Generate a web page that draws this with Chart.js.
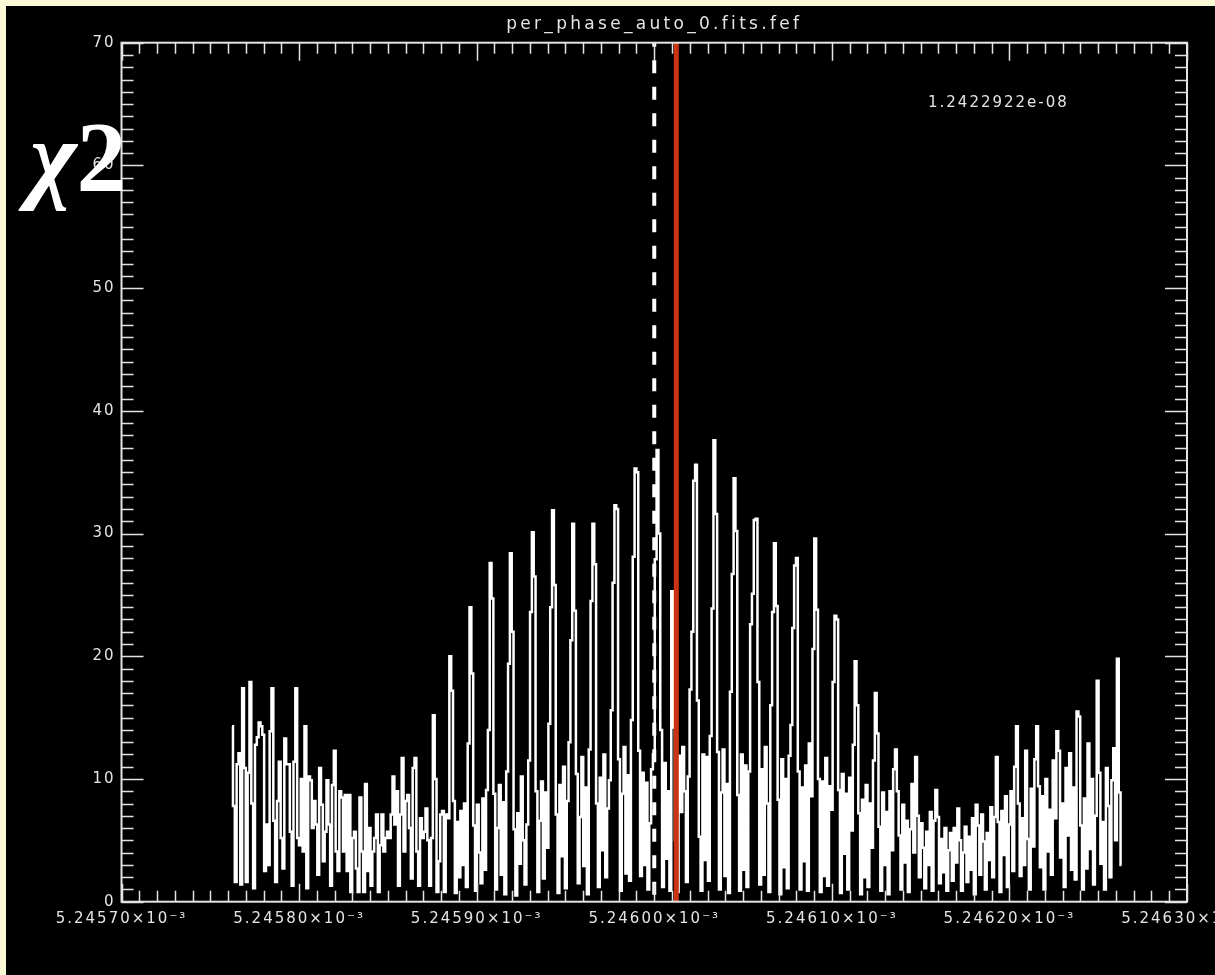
<!DOCTYPE html>
<html>
<head>
<meta charset="utf-8">
<script src="https://cdn.jsdelivr.net/npm/chart.js@4"></script>
<style>
  html, body { margin: 0; padding: 0; background: #fcfad6; }
  body { width: 1215px; height: 975px; overflow: hidden; position: relative; }
  #wrap { position: absolute; left: 6px; top: 6px; width: 1209px; height: 969px; background: #000; }
</style>
</head>
<body>
<div id="wrap"><canvas id="chart" width="1209" height="969"></canvas></div>
<script>
// frequency grid of the scan (first and last sampled frequency)
const freqFirst = 0.00524576225;
const freqLast = 0.0052462631;

// chi2 values, left to right
const chi2 = [
  14.3, 7.8, 1.6, 11.2, 12.1, 1.4, 17.4, 10.9, 1.6, 10.5,
  17.9, 8.0, 1.1, 12.8, 13.4, 14.6, 14.3, 13.6, 2.5, 6.3,
  3.0, 13.9, 17.4, 6.6, 1.6, 8.2, 11.4, 5.2, 2.7, 13.3,
  11.2, 11.2, 5.7, 1.3, 11.4, 17.4, 5.2, 4.6, 10.0, 4.1,
  14.3, 1.1, 10.2, 9.9, 6.0, 8.2, 6.3, 2.2, 10.9, 7.9,
  3.3, 5.7, 9.9, 6.3, 1.3, 9.5, 12.3, 4.1, 2.5, 9.0,
  8.5, 4.1, 8.7, 2.5, 8.7, 0.8, 5.2, 5.7, 2.7, 0.8,
  8.5, 4.1, 0.8, 9.6, 2.5, 6.0, 1.3, 4.1,
  5.2, 7.1, 0.8, 4.6, 7.1, 4.1, 5.2,
  5.7, 5.2, 7.1, 10.2, 6.3, 9.0, 1.3, 7.1, 11.7,
  4.1, 8.2, 8.7, 6.0, 1.9, 10.9, 11.7, 4.1, 1.3, 6.8,
  5.2, 5.7, 7.6, 5.0, 1.3, 5.2, 15.2, 10.0, 0.8,
  3.3, 7.1, 7.4, 0.8, 7.1, 6.8,
  20.0, 17.2, 8.2, 0.7, 6.5, 2.0, 7.4, 3.0, 8.0, 1.2, 12.9,
  24.0, 18.6, 6.2, 0.9, 7.9, 4.0, 1.5, 8.4, 2.6, 9.1, 14.0,
  27.6, 24.7, 8.8, 1.0, 6.0, 9.5, 2.2, 8.1, 0.6, 10.6, 19.4,
  28.4, 22.0, 5.9, 0.5, 7.2, 3.1, 10.2, 5.0, 1.4, 6.3, 11.5, 23.6,
  30.1, 26.5, 9.0, 0.8, 6.6, 9.8, 1.9, 8.9, 4.4, 14.5, 24.0,
  31.9, 25.8, 7.1, 0.7, 9.5, 3.7, 11.0, 1.1, 8.2, 13.0, 21.3,
  30.8, 23.7, 10.4, 1.5, 6.9, 11.8, 2.9, 9.3, 0.6, 12.4, 24.5,
  30.8, 27.5, 8.0, 1.2, 10.1, 4.2, 12.0, 2.0, 7.6, 9.9, 15.6, 26.0,
  32.3, 32.0, 11.6, 0.9, 8.8, 12.6, 2.3, 10.3, 1.7, 14.8, 28.1,
  35.3, 35.0, 12.3, 2.1, 10.5, 3.0, 9.7, 1.0, 6.4, 10.8, 12.0, 27.9,
  36.8, 30.0, 14.0, 1.2, 11.3, 3.5, 9.0, 0.9, 25.3,
  14.2, 5.0, 0.8, 11.9, 7.3, 12.6, 9.0, 1.6, 10.2, 17.3, 22.0,
  34.3, 35.6, 16.4, 5.3, 0.9, 12.0, 3.4, 11.8, 1.7, 13.5, 23.9,
  37.6, 31.6, 12.2, 1.0, 8.9, 12.4, 2.1, 9.6, 0.7, 17.1, 26.7,
  34.5, 30.2, 8.7, 0.9, 12.0, 2.6, 11.1, 1.2, 10.6, 22.6, 25.1,
  31.1, 31.2, 17.9, 1.4, 10.8, 2.2, 12.6, 8.0, 0.8, 16.0, 23.6,
  29.2, 24.1, 8.3, 0.6, 11.6, 2.8, 10.0, 1.1, 11.9, 14.4, 22.3,
  27.4, 28.0, 10.6, 1.0, 9.3, 3.3, 11.1, 0.9, 12.9, 8.6, 20.6,
  29.6, 23.8, 10.0, 0.8, 9.8, 2.1, 11.7, 1.3, 9.4, 7.5, 17.9,
  23.3, 23.0, 9.1, 0.7, 10.4, 3.9, 8.8, 1.0, 10.1, 5.8, 12.8,
  19.6, 16.0, 7.2, 0.6, 8.3, 2.0, 9.5, 1.2, 8.0, 4.4, 11.5,
  17.0, 13.7, 6.1, 0.9, 8.9, 3.0, 7.3, 0.6, 9.0, 4.2, 10.8,
  12.4, 9.0, 5.4, 1.0, 7.9, 3.2, 6.6, 0.8, 5.9, 9.6, 4.0,
  11.8, 7.0, 2.0, 6.4, 4.4, 1.1, 5.7, 3.0, 7.3, 0.9, 6.6,
  9.1, 6.9, 1.5, 5.1, 2.4, 6.0, 0.9, 4.2, 5.6, 1.7, 6.0, 3.2,
  7.6, 5.0, 0.9, 4.0, 6.1, 1.6, 5.3, 2.6, 6.8, 0.6,
  7.9, 6.2, 2.2, 7.1, 4.9, 1.0, 5.6, 3.4, 7.7, 2.0, 6.9,
  11.8, 6.5, 0.8, 7.4, 3.8, 8.6, 1.2, 6.3, 9.0, 2.5, 11.0,
  14.3, 8.0, 2.1, 6.8, 3.0, 12.3, 5.1, 1.0, 9.2, 4.5, 11.6,
  14.3, 9.4, 2.8, 8.6, 1.0, 10.0, 4.1, 7.5, 2.2, 11.5, 6.8,
  13.9, 12.3, 3.6, 8.0, 1.2, 10.9, 5.4, 12.1, 2.6, 9.3, 1.8,
  15.5, 15.1, 6.2, 1.0, 8.4, 2.7, 12.9, 4.3, 10.0, 1.4, 7.0,
  18.0, 10.5, 3.1, 6.5, 1.0, 10.9, 7.8, 2.0, 9.9, 12.5, 5.0, 19.8, 8.9, 3.0
];

// marker lines: reference frequency (dashed) and fitted one (red)
const refFreq = 0.00524600;
const deltaFreq = 1.2422922e-8;
const fitFreq = refFreq + deltaFreq;
const deltaText = "1.2422922e-08";

const xTicks = [0.0052457, 0.0052458, 0.0052459, 0.0052460, 0.0052461, 0.0052462, 0.0052463];
const yTicks = [0, 10, 20, 30, 40, 50, 60, 70];
const titleText = "per_phase_auto_0.fits.fef";

const fg = "#e4e4e4";
const step = (freqLast - freqFirst) / (chi2.length - 1);
const points = chi2.map((v, i) => ({ x: freqFirst + i * step, y: v }));

function spacing(ctx, px) {
  if ("letterSpacing" in ctx) ctx.letterSpacing = px + "px";
}

// IDL-like frame: box with inward ticks, title, labels
const idlFrame = {
  id: "idlFrame",
  beforeLayout(chart) { spacing(chart.ctx, 2); },
  beforeDraw(chart) { spacing(chart.ctx, 2); },
  afterDraw(chart) {
    const ctx = chart.ctx;
    const a = chart.chartArea;
    const xs = chart.scales.x, ys = chart.scales.y;
    ctx.save();
    ctx.strokeStyle = fg;
    ctx.lineWidth = 2;
    ctx.strokeRect(a.left, a.top, a.right - a.left, a.bottom - a.top);
    ctx.lineWidth = 1.5;
    ctx.beginPath();
    for (let k = 0; k <= 60; k++) {
      const px = Math.round(xs.getPixelForValue(xs.min + k * 1e-8)) + 0.5;
      const len = k % 10 === 0 ? 18 : 11;
      ctx.moveTo(px, a.bottom); ctx.lineTo(px, a.bottom - len);
      ctx.moveTo(px, a.top); ctx.lineTo(px, a.top + len);
    }
    for (let k = 0; k <= 70; k++) {
      const py = Math.round(ys.getPixelForValue(k)) + 0.5;
      const len = k % 10 === 0 ? 22 : 12;
      ctx.moveTo(a.left, py); ctx.lineTo(a.left + len, py);
      ctx.moveTo(a.right, py); ctx.lineTo(a.right - len, py);
    }
    ctx.stroke();

    ctx.fillStyle = fg;
    ctx.textBaseline = "middle";
    spacing(ctx, 3.3);
    ctx.font = "17px 'DejaVu Sans'";
    ctx.textAlign = "center";
    ctx.fillText(titleText, (a.left + a.right) / 2, 19);
    spacing(ctx, 2);
    ctx.font = "15px 'DejaVu Sans'";
    ctx.textAlign = "left";
    ctx.fillText(deltaText, 922, 97);

    spacing(ctx, 0);
    ctx.fillStyle = "#ffffff";
    ctx.textBaseline = "alphabetic";
    ctx.font = "italic bold 100px 'Liberation Serif', 'DejaVu Serif', serif";
    ctx.fillText("\u03c7", 24, 184);
    const w = ctx.measureText("\u03c7").width;
    ctx.font = "bold 100px 'Liberation Serif', 'DejaVu Serif', serif";
    ctx.fillText("2", 24 + w, 184);
    ctx.restore();
  }
};

new Chart(document.getElementById("chart"), {
  type: "line",
  data: {
    datasets: [
      {
        label: "chi2",
        data: points,
        borderColor: "#ffffff",
        borderWidth: 2.5,
        pointRadius: 0,
        stepped: "middle",
        order: 3
      },
      {
        label: "ref",
        data: [{ x: refFreq, y: 70 }, { x: refFreq, y: 0 }],
        borderColor: "#ffffff",
        borderWidth: 4,
        borderDash: [13, 13.5],
        borderDashOffset: 9,
        pointRadius: 0,
        order: 2
      },
      {
        label: "fit",
        data: [{ x: fitFreq, y: 70 }, { x: fitFreq, y: 0 }],
        borderColor: "#cc3311",
        borderWidth: 5,
        pointRadius: 0,
        order: 1
      }
    ]
  },
  options: {
    responsive: false,
    devicePixelRatio: 1,
    animation: false,
    layout: { padding: { top: 36.7, right: 28, left: 0, bottom: 0 } },
    plugins: { legend: { display: false }, tooltip: { enabled: false }, title: { display: false } },
    scales: {
      x: {
        type: "linear",
        min: xTicks[0],
        max: xTicks[xTicks.length - 1],
        afterBuildTicks: s => { s.ticks = xTicks.map(v => ({ value: v })); },
        afterFit: s => { s.height = 73.3; s.paddingLeft = 0; s.paddingRight = 0; },
        grid: { display: false, drawTicks: false },
        border: { display: false },
        ticks: {
          color: fg,
          autoSkip: false,
          maxRotation: 0,
          padding: 8,
          font: { family: "DejaVu Sans", size: 15 },
          callback: v => (v * 1000).toFixed(5) + "\u00d710\u207b\u00b3"
        }
      },
      y: {
        min: 0,
        max: 70,
        afterBuildTicks: s => { s.ticks = yTicks.map(v => ({ value: v })); },
        afterFit: s => { s.width = 115.5; s.paddingTop = 0; s.paddingBottom = 0; },
        grid: { display: false, drawTicks: false },
        border: { display: false },
        ticks: {
          color: fg,
          padding: 6,
          font: { family: "DejaVu Sans", size: 15 }
        }
      }
    }
  },
  plugins: [idlFrame]
});
</script>
</body>
</html>
